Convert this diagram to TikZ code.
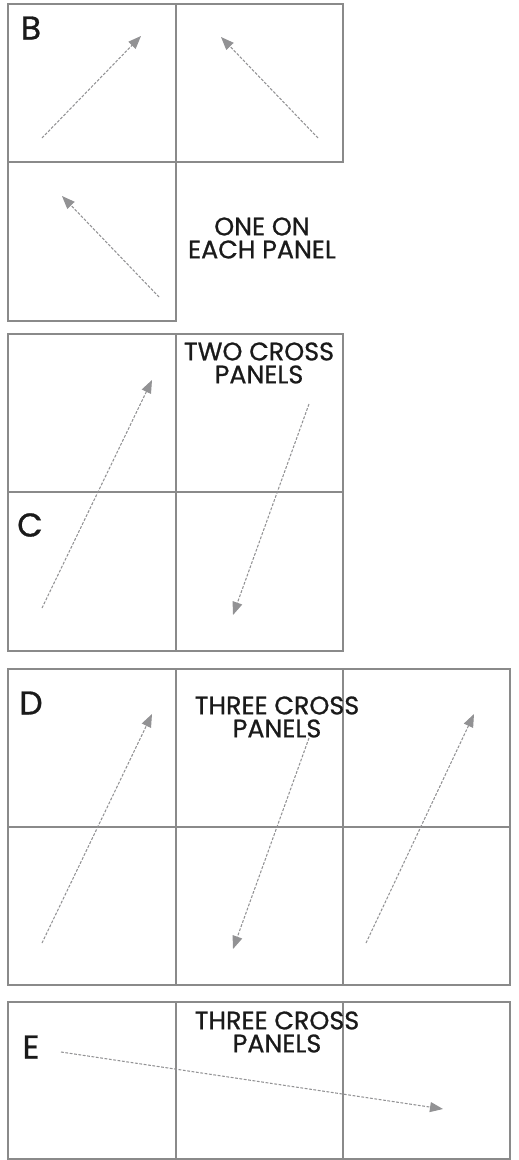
\documentclass[tikz,border=0pt]{standalone}
\usepackage{fontspec}
\setmainfont{Poppins}[FakeBold=0.8]
\usetikzlibrary{arrows.meta}
\definecolor{panelgray}{HTML}{8A8A8A}
\definecolor{arrowgray}{HTML}{929294}
\definecolor{ink}{HTML}{1A1A1A}
\tikzset{
  panel/.style={draw=panelgray, line width=1.2pt},
  flow/.style={draw=arrowgray, line width=1.05pt, dash pattern=on 2.8pt off 1.6pt,
    -{Triangle[length=13pt,width=10pt,fill=arrowgray]}},
  letter/.style={text=ink, font=\fontsize{33}{33}\selectfont, inner sep=0pt},
  caption/.style={text=ink, font=\fontsize{25.4}{23}\selectfont, align=center, inner sep=0pt},
}
\begin{document}
\begin{tikzpicture}[x=1pt,y=-1pt]
\useasboundingbox[fill=white] (0,0) rectangle (519,1160);
% ---- Panel B ----
\draw[panel] (8,4) rectangle (176,162);
\draw[panel] (176,4) rectangle (343,162);
\draw[panel] (8,162) rectangle (176,321);
\node[letter] (lB) at (31,28) {B};
\node[caption] (tB) at (262,238) {ONE ON\\EACH PANEL};
\coordinate (b1s) at (42,138);  \coordinate (b1e) at (141,36);
\coordinate (b2s) at (318,138); \coordinate (b2e) at (221,37);
\coordinate (b3s) at (159,297); \coordinate (b3e) at (62,196);
\draw[flow] (b1s) -- (b1e);
\draw[flow] (b2s) -- (b2e);
\draw[flow] (b3s) -- (b3e);
% ---- Panel C ----
\draw[panel] (8,334) rectangle (343,651);
\draw[panel] (176,334) -- (176,651);
\draw[panel] (8,492) -- (343,492);
\node[letter] (lC) at (30,525) {C};
\node[caption] (tC) at (259,363) {TWO CROSS\\PANELS};
\coordinate (c1s) at (42,608);  \coordinate (c1e) at (152,380);
\coordinate (c2s) at (309,404); \coordinate (c2e) at (233,615);
\draw[flow] (c1s) -- (c1e);
\draw[flow] (c2s) -- (c2e);
% ---- Panel D ----
\draw[panel] (8,669) rectangle (510,985);
\draw[panel] (176,669) -- (176,985);
\draw[panel] (343,669) -- (343,985);
\draw[panel] (8,827) -- (510,827);
\node[letter] (lD) at (31,703) {D};
\node[caption] (tD) at (277,717) {THREE CROSS\\PANELS};
\coordinate (d1s) at (42,943);  \coordinate (d1e) at (152,714);
\coordinate (d2s) at (309,738); \coordinate (d2e) at (233,949);
\coordinate (d3s) at (366,943); \coordinate (d3e) at (474,714);
\draw[flow] (d1s) -- (d1e);
\draw[flow] (d2s) -- (d2e);
\draw[flow] (d3s) -- (d3e);
% ---- Panel E ----
\draw[panel] (8,1002) rectangle (510,1159);
\draw[panel] (176,1002) -- (176,1159);
\draw[panel] (343,1002) -- (343,1159);
\node[letter] (lE) at (31,1047) {E};
\node[caption] (tE) at (277,1032) {THREE CROSS\\PANELS};
\coordinate (e1s) at (61,1052); \coordinate (e1e) at (443,1109);
\draw[flow] (e1s) -- (e1e);
\end{tikzpicture}
\end{document}
